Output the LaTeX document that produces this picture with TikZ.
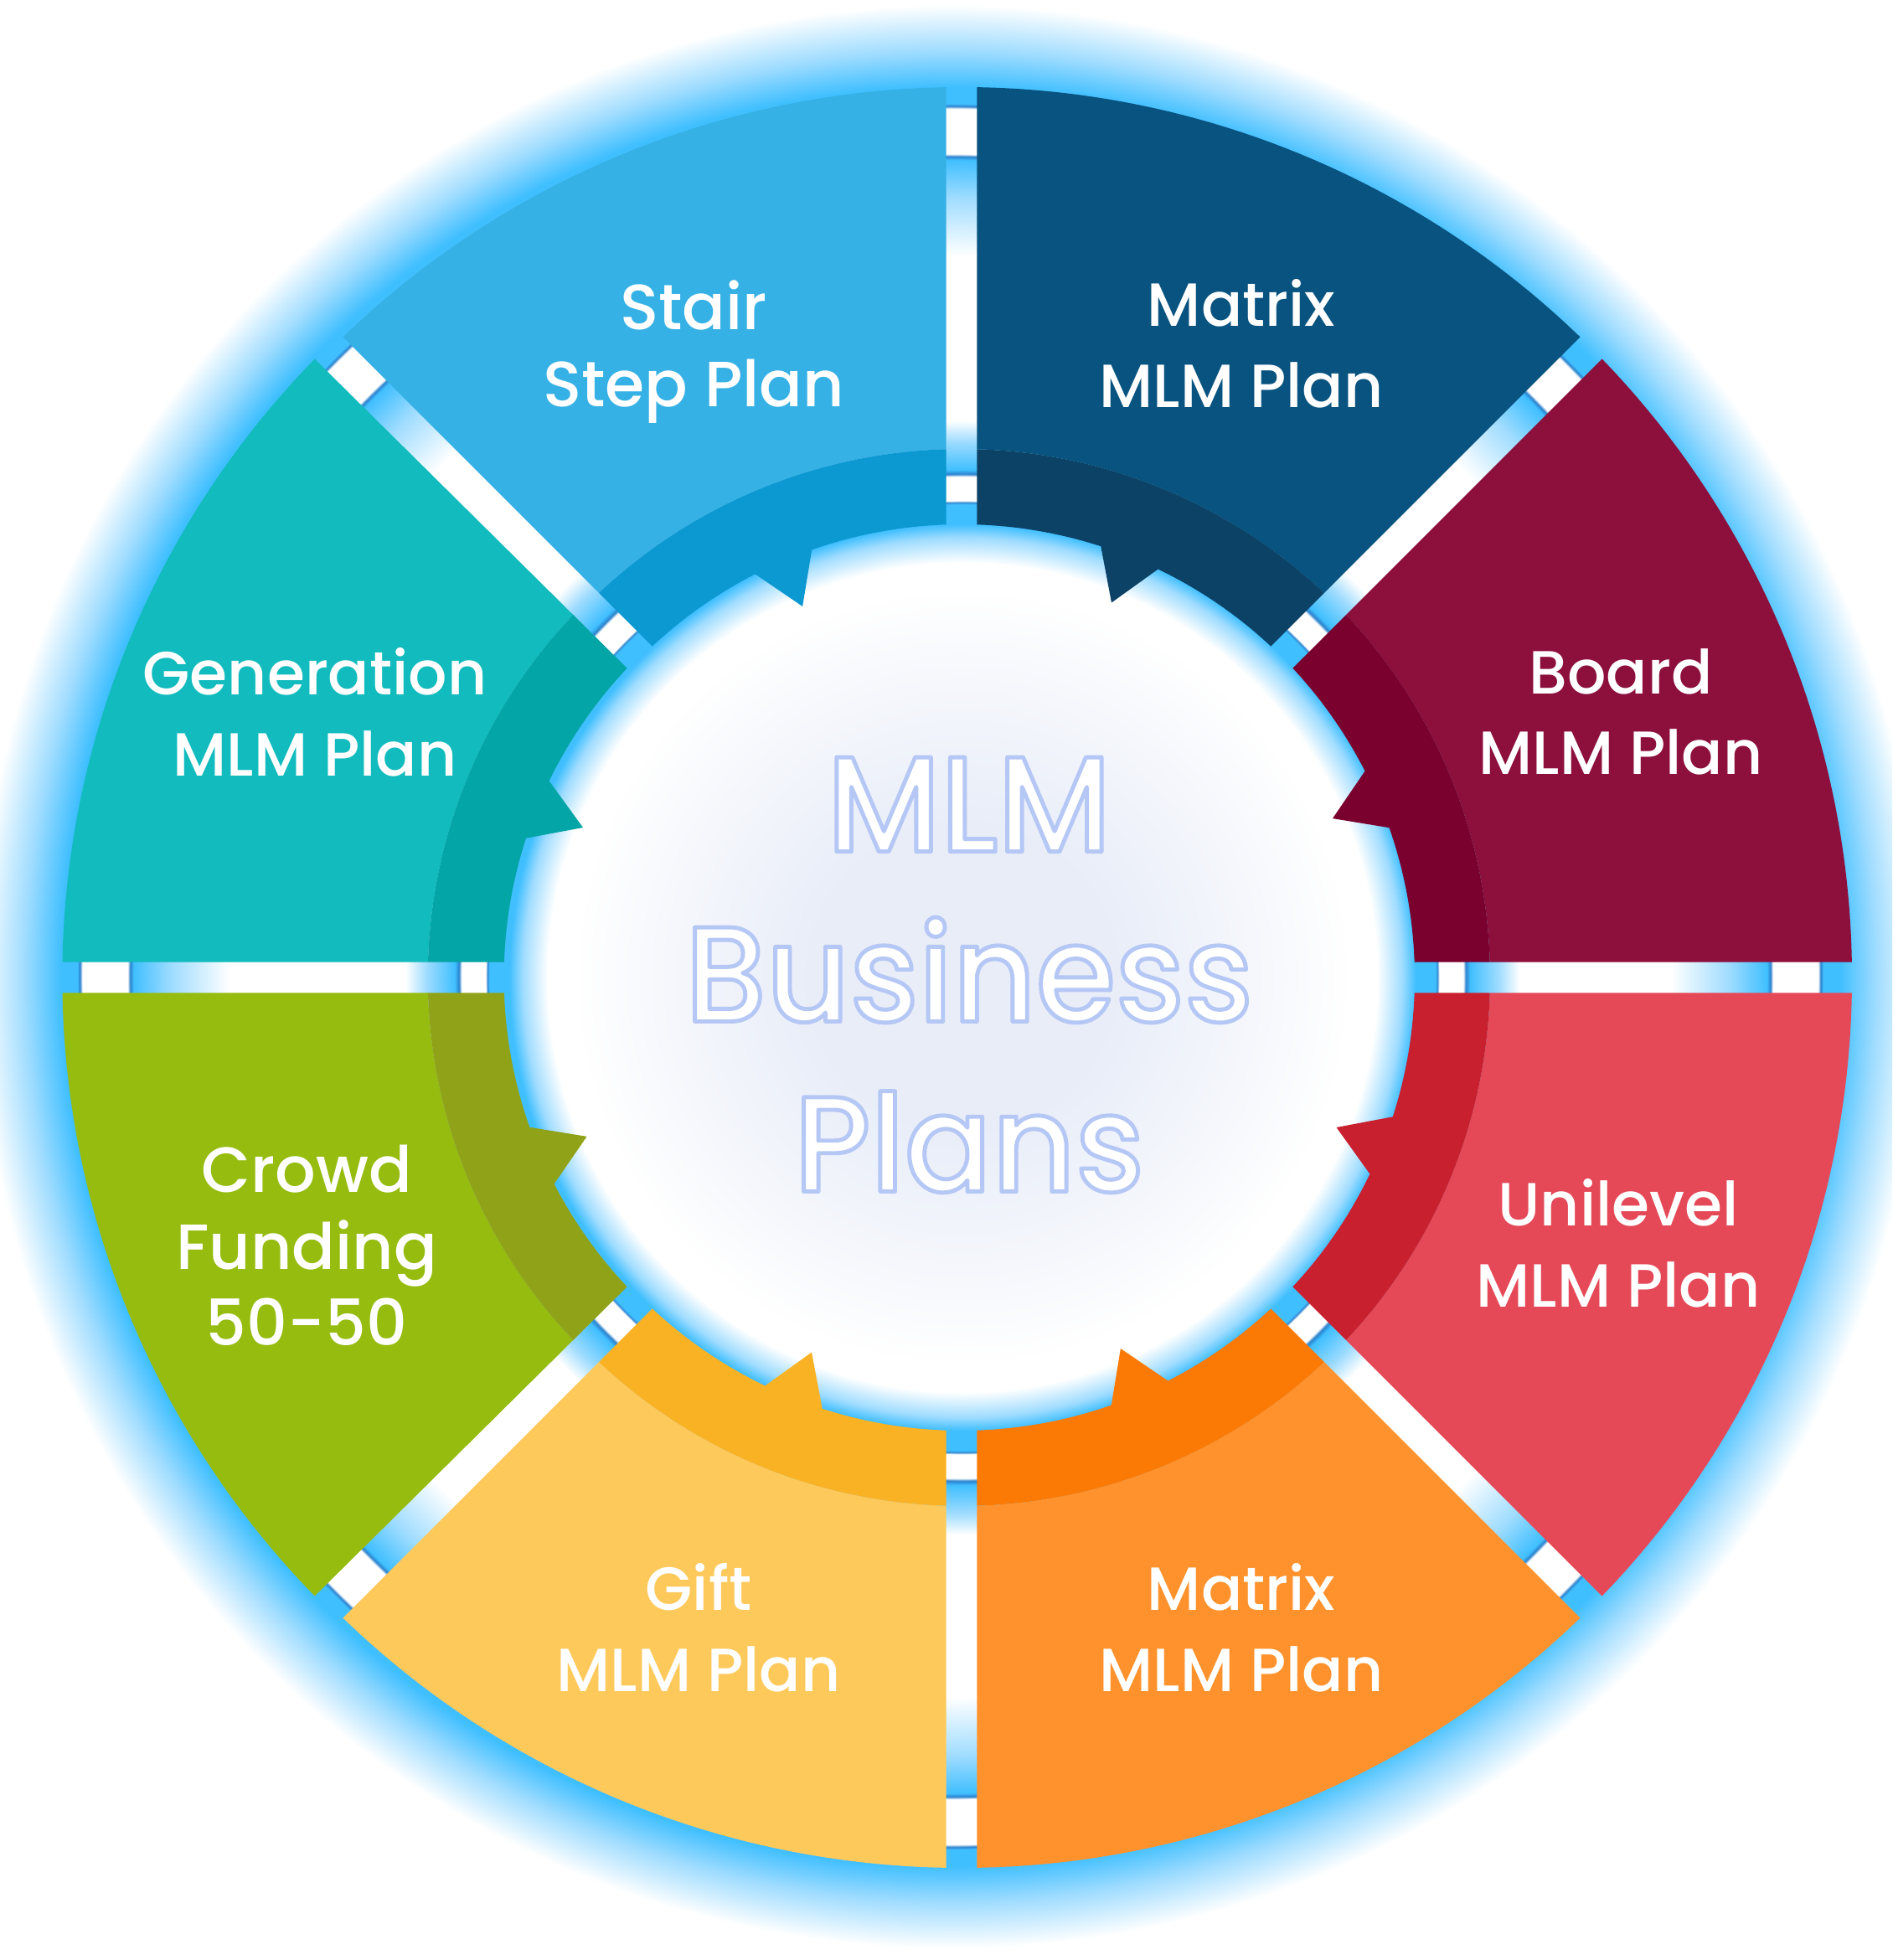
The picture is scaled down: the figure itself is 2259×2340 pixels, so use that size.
\documentclass[tikz,border=0pt]{standalone}
\usepackage{fontspec}
\setmainfont{Poppins Medium}
\newfontfamily\hubfont{Poppins Medium}[FakeStretch=0.95]
\definecolor{glowblue}{HTML}{40BFFF}
\definecolor{glowline}{HTML}{2A80CC}
\definecolor{glowsoft}{HTML}{9FDCFF}
\definecolor{coreblue}{HTML}{E8EDF8}
\definecolor{coremid}{HTML}{F5F7FC}
\definecolor{stairA}{HTML}{36B1E5} \definecolor{stairB}{HTML}{0C98D0}
\definecolor{matrixA}{HTML}{08537F} \definecolor{matrixB}{HTML}{0C4266}
\definecolor{boardA}{HTML}{8C0F3C} \definecolor{boardB}{HTML}{7A002D}
\definecolor{uniA}{HTML}{E54958} \definecolor{uniB}{HTML}{C8202F}
\definecolor{orangeA}{HTML}{FF922C} \definecolor{orangeB}{HTML}{FB7A05}
\definecolor{giftA}{HTML}{FEC95B} \definecolor{giftB}{HTML}{F9B224}
\definecolor{crowdA}{HTML}{96BC10} \definecolor{crowdB}{HTML}{90A217}
\definecolor{genA}{HTML}{12BBBD} \definecolor{genB}{HTML}{04A5A6}
\pgfdeclareradialshading{outerglow}{\pgfpointorigin}{color(0bp)=(white); color(17.2bp)=(white);
  color(18.6bp)=(glowsoft); color(19.5bp)=(glowblue); color(19.58bp)=(glowline); color(19.64bp)=(white);
  color(20.72bp)=(white); color(20.78bp)=(glowline); color(20.84bp)=(glowblue); color(21.24bp)=(glowblue);
  color(22.1bp)=(glowsoft); color(23.2bp)=(white); color(50bp)=(white)}
\pgfdeclareradialshading{innerglow}{\pgfpointorigin}{color(0bp)=(coreblue); color(6bp)=(coreblue);
  color(11.67bp)=(coremid); color(15.5bp)=(white); color(16.5bp)=(white); color(17.5bp)=(glowsoft);
  color(18.03bp)=(glowblue); color(18.83bp)=(glowblue); color(18.9bp)=(glowline); color(18.97bp)=(white);
  color(19.93bp)=(white); color(20.03bp)=(glowline); color(20.2bp)=(glowblue); color(21.33bp)=(glowsoft);
  color(22.17bp)=(white); color(50bp)=(white)}
\newcommand\embossed[1]{\special{pdf:code 2 Tr 1.4 w 0.71 0.78 0.96 RG}#1\special{pdf:code 0 Tr}}
\tikzset{plan/.style={text=white, align=center, font=\fontsize{20.7}{27.5}\selectfont},
  plantight/.style={text=white, align=center, font=\fontsize{21.7}{26}\selectfont},
  hub/.style={text=white, align=center, font=\hubfont\fontsize{46}{57.7}\selectfont}}
\begin{document}
\begin{tikzpicture}[x=0.01cm,y=0.01cm,line join=round]
	\def\Ro{1063} \def\Rm{631} \def\Ri{541}
	\useasboundingbox (-1148,-1173) rectangle (1111,1167);
	\clip (-1148,-1173) rectangle (1111,1167);
	\shade[shading=outerglow] (-13.5,1) circle (1250);
	\shade[shading=innerglow] (1,0) circle (750);
	\pgfmathsetmacro\dO{asin(18.5/\Ro)}
	\pgfmathsetmacro\dM{asin(18.5/\Rm)}
	\pgfmathsetmacro\dI{asin(18.5/\Ri)}
	% start angle / light / dark / stretch
	\foreach \a/\cl/\cd/\sx in {90/stairA/stairB/1,45/matrixA/matrixB/1,0/boardA/boardB/1,-45/uniA/uniB/1,
		-90/orangeA/orangeB/1,225/giftA/giftB/1,180/crowdA/crowdB/1.01,135/genA/genB/1.01}{
		\fill[\cl,xscale=\sx] (\a+\dO:\Ro) arc[start angle=\a+\dO,end angle=\a+45-\dO,radius=\Ro]
			-- (\a+45-\dM:\Rm) arc[start angle=\a+45-\dM,end angle=\a+\dM,radius=\Rm] -- cycle;
		\fill[\cd,xscale=\sx] (\a+\dM:\Rm) arc[start angle=\a+\dM,end angle=\a+45-\dM,radius=\Rm]
			-- (\a+45-\dI:\Ri) arc[start angle=\a+45-\dI,end angle=\a+27.1,radius=\Ri]
			-- (\a+23.2:\Ri-59) -- (\a+19.3:\Ri)
			arc[start angle=\a+19.3,end angle=\a+\dI,radius=\Ri] -- cycle;
	}
	\node[plantight] (stair) at (-320,747) {Stair\\Step Plan};
	\node[plan] (matrixtop) at (334,757) {Matrix\\MLM Plan};
	\node[plan] (board) at (787,317) {Board\\MLM Plan};
	\node[plan] (unilevel) at (784,-317) {Unilevel\\MLM Plan};
	\node[plan] (matrixlow) at (334,-776) {Matrix\\MLM Plan};
	\node[plan] (gift) at (-314,-776) {Gift\\MLM Plan};
	\node[plantight] (crowd) at (-782,-320) {Crowd\\Funding\\50-50};
	\node[plan] (generation) at (-772,317) {Generation\\MLM Plan};
	\node[hub] (title) at (9,3) {\embossed{MLM\\Business\\Plans}};
\end{tikzpicture}
\end{document}
